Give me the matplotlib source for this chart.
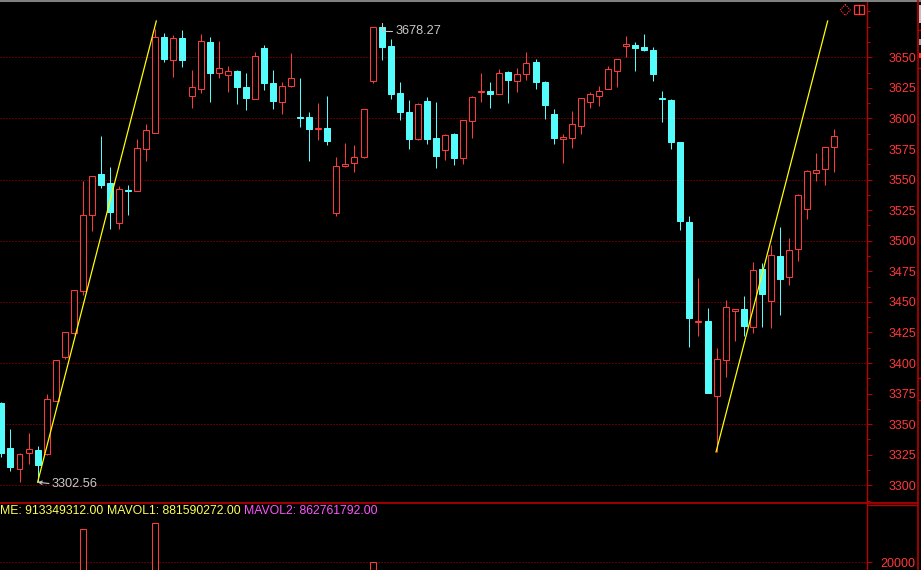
import matplotlib
matplotlib.use('Agg')
import matplotlib.pyplot as plt
from matplotlib.patches import Rectangle, Polygon
from matplotlib.lines import Line2D
import numpy as np

W, H, DPI = 921, 570, 100

opens = [3367.3, 3330.5, 3313.6, 3326.2, 3328.9, 3325.4, 3369.2, 3404.7, 3424.3, 3459.2,
         3520.8, 3554.8, 3547.5, 3514.3, 3541.5, 3540.9, 3575.3, 3588.3, 3666.6, 3648.0,
         3665.8, 3618.1, 3624.3, 3662.5, 3636.9, 3635.3, 3638.8, 3625.7, 3616.1, 3657.6,
         3629.0, 3613.7, 3626.3, 3601.2, 3601.2, 3591.5, 3592.2, 3522.4, 3560.9, 3563.3,
         3568.2, 3630.4, 3674.8, 3659.2, 3620.8, 3605.3, 3582.9, 3614.3, 3584.3, 3574.0,
         3587.3, 3567.4, 3597.7, 3621.5, 3622.4, 3620.2, 3638.0, 3630.9, 3636.6, 3646.2,
         3629.8, 3603.6, 3583.4, 3584.3, 3594.1, 3613.7, 3618.6, 3624.3, 3639.0, 3659.5,
         3660.1, 3658.4, 3656.0, 3616.8, 3615.1, 3580.7, 3515.6, 3433.8, 3434.4, 3372.8,
         3402.2, 3442.3, 3444.2, 3429.2, 3476.9, 3450.5, 3487.5, 3470.1, 3493.2, 3525.7,
         3555.6, 3558.9, 3576.4]
highs = [3368.0, 3346.1, 3326.4, 3342.8, 3332.2, 3374.7, 3402.5, 3425.5, 3460.0, 3548.8,
         3553.2, 3585.9, 3560.5, 3545.0, 3545.6, 3583.2, 3595.5, 3672.9, 3669.9, 3668.5,
         3672.3, 3639.6, 3669.3, 3666.6, 3663.3, 3642.9, 3639.6, 3637.2, 3654.3, 3660.1,
         3639.6, 3629.8, 3653.5, 3633.1, 3605.3, 3612.6, 3618.4, 3568.5, 3579.9, 3578.3,
         3608.0, 3675.0, 3678.27, 3664.7, 3629.8, 3615.1, 3612.6, 3617.5, 3613.4, 3587.0,
         3588.0, 3599.0, 3618.0, 3637.2, 3629.8, 3640.4, 3638.5, 3641.3, 3654.3, 3648.6,
         3630.3, 3607.7, 3587.3, 3606.1, 3617.0, 3621.6, 3626.5, 3642.9, 3649.0, 3667.4,
         3662.5, 3669.1, 3658.4, 3622.4, 3615.5, 3581.0, 3520.2, 3469.5, 3445.0, 3412.5,
         3451.5, 3444.3, 3455.1, 3482.6, 3481.8, 3496.3, 3511.0, 3502.0, 3538.2, 3557.5,
         3571.7, 3577.0, 3591.4]
lows = [3323.4, 3312.0, 3303.0, 3317.7, 3302.56, 3325.0, 3368.8, 3403.0, 3424.0, 3456.0,
        3508.2, 3543.4, 3509.8, 3509.8, 3521.0, 3540.5, 3565.2, 3588.0, 3646.2, 3633.9,
        3642.1, 3608.8, 3621.1, 3613.7, 3633.3, 3621.9, 3612.1, 3607.2, 3615.8, 3623.5,
        3608.0, 3603.9, 3626.0, 3593.3, 3565.4, 3582.6, 3578.5, 3520.5, 3560.6, 3556.5,
        3567.9, 3629.2, 3647.8, 3616.1, 3599.0, 3575.3, 3582.5, 3579.3, 3559.7, 3566.3,
        3562.2, 3563.0, 3584.3, 3613.7, 3608.8, 3620.0, 3612.9, 3621.9, 3631.4, 3624.3,
        3599.8, 3579.3, 3563.8, 3576.1, 3587.5, 3608.8, 3610.4, 3624.0, 3626.0, 3650.5,
        3639.0, 3655.2, 3630.9, 3597.3, 3575.3, 3508.5, 3413.4, 3422.4, 3375.5, 3327.3,
        3388.8, 3418.3, 3422.1, 3424.8, 3429.7, 3428.9, 3439.5, 3464.1, 3483.7, 3518.0,
        3549.1, 3545.8, 3556.5]
closes = [3326.4, 3315.2, 3325.4, 3329.5, 3316.9, 3370.3, 3402.2, 3425.1, 3459.5, 3521.0,
          3552.9, 3545.8, 3523.7, 3542.3, 3541.0, 3575.8, 3590.6, 3666.4, 3648.9, 3665.5,
          3647.8, 3625.5, 3663.3, 3637.4, 3641.0, 3638.8, 3626.0, 3617.0, 3651.1, 3629.2,
          3614.5, 3626.3, 3632.8, 3600.7, 3591.6, 3592.3, 3581.8, 3561.1, 3562.8, 3568.5,
          3607.7, 3674.8, 3658.7, 3620.2, 3605.5, 3583.4, 3611.6, 3583.4, 3569.5, 3586.5,
          3567.9, 3598.7, 3617.5, 3622.3, 3620.2, 3637.2, 3631.7, 3636.3, 3645.3, 3630.0,
          3611.2, 3584.3, 3585.1, 3595.5, 3616.7, 3620.0, 3622.4, 3640.4, 3648.6, 3661.1,
          3657.9, 3656.0, 3636.6, 3616.3, 3581.0, 3515.9, 3437.1, 3434.5, 3375.7, 3403.3,
          3445.6, 3443.9, 3430.3, 3475.8, 3456.7, 3488.1, 3469.0, 3492.4, 3537.2, 3557.0,
          3557.8, 3576.7, 3585.6]
volumes = [14200, 12500, 11800, 10900, 12100, 15600, 16400, 16900, 17300, 28600,
           17600, 16800, 15900, 14300, 12200, 15100, 15800, 30000, 16900, 15200,
           14800, 13500, 15300, 14900, 12800, 11600, 11900, 12300, 14100, 13800,
           12600, 11800, 12900, 12500, 13100, 11200, 11700, 16200, 12400, 11500,
           14200, 20100, 17400, 15800, 14100, 13200, 12700, 12400, 12900, 11300,
           11600, 12800, 13400, 12100, 11800, 12600, 11900, 11400, 12200, 12500,
           13100, 12800, 11100, 11700, 12400, 11500, 11200, 12700, 13300, 13900,
           12600, 12300, 13500, 14600, 15400, 16800, 17600, 13900, 16200, 17100,
           15500, 11900, 12400, 14300, 13100, 14500, 13600, 12800, 15200, 14700,
           12300, 13400, 13800]

price_ticks = list(range(3300, 3651, 25))
grid_levels = list(range(3300, 3651, 50))
vol_ticks = [20000]
trend1 = ([4, 17.11], [3302.56, 3679.7])
trend2 = ([78.94, 91.27], [3327.3, 3679.7])
info_texts = ["ME: 913349312.00", "MAVOL1: 881590272.00", "MAVOL2: 862761792.00"]

RED = '#ff3838'
CYAN = '#54fcfc'
AXRED = '#b80000'
GRID = '#b40000'
YEL = '#ffff00'
GREY = '#c8c8c8'
FONT = 'Liberation Sans'
LW = 0.72

plt.rcParams['font.family'] = [FONT, 'DejaVu Sans']

fig = plt.figure(figsize=(W / DPI, H / DPI), dpi=DPI, facecolor='black')

def fx(x):
    return x / W

def fy(y):
    return 1 - y / H

# price axes: pixel rows 0..503, columns 0..866.7
ax = fig.add_axes([0, fy(503), fx(866.7), 503 / H], facecolor='black')
x0 = -1.4 / 9.053
x1 = (866.7 - 1.4) / 9.053
ax.set_xlim(x0, x1)
ax.set_ylim(3650 - (503 - 57.3) / 1.2229, 3650 + 57.3 / 1.2229)

for g in grid_levels:
    ax.axhline(g, color=GRID, lw=LW, linestyle=(0, (1, 2)), zorder=0)

bw = 0.66
minh = 0.9
n = len(opens)
for i in range(n):
    o, h, l, c = opens[i], highs[i], lows[i], closes[i]
    top, bot = max(o, c), min(o, c)
    if top - bot < minh:
        mid = (top + bot) / 2
        top, bot = mid + minh / 2, mid - minh / 2
    if c >= o:
        ax.vlines(i, top, h, color=RED, lw=LW, zorder=2)
        ax.vlines(i, l, bot, color=RED, lw=LW, zorder=2)
        ax.add_patch(Rectangle((i - bw / 2, bot), bw, top - bot, facecolor='black',
                               edgecolor=RED, lw=LW, zorder=3))
    else:
        ax.vlines(i, l, h, color=CYAN, lw=LW, zorder=2)
        ax.add_patch(Rectangle((i - bw / 2, bot), bw, top - bot, facecolor=CYAN,
                               edgecolor=CYAN, lw=LW, zorder=3))

ax.plot(trend1[0], trend1[1], color=YEL, lw=0.9, zorder=4)
ax.plot(trend2[0], trend2[1], color=YEL, lw=0.9, zorder=4)

ilow = int(np.argmin(lows))
ihigh = int(np.argmax(highs))
ax.annotate(f'{lows[ilow]:.2f}', xy=(ilow, lows[ilow]), xytext=(10.2, -1.2),
            textcoords='offset points', ha='left', va='center', color=GREY,
            fontsize=9.2, zorder=5,
            arrowprops=dict(arrowstyle='->', color=GREY, lw=0.8, shrinkA=0, shrinkB=0,
                            relpos=(0, 0.5), mutation_scale=6))
ax.annotate(f'{highs[ihigh]:.2f}', xy=(ihigh, highs[ihigh]), xytext=(9.8, -6.2),
            textcoords='offset points', ha='left', va='center', color=GREY,
            fontsize=9.2, zorder=5,
            arrowprops=dict(arrowstyle='-', color=GREY, lw=0.8, shrinkA=0, shrinkB=0,
                            relpos=(0, 0.5), connectionstyle='angle,angleA=0,angleB=90,rad=0'))

for s in ['top', 'left', 'bottom']:
    ax.spines[s].set_visible(False)
ax.spines['right'].set_color(AXRED)
ax.spines['right'].set_linewidth(1.0)
ax.set_xticks([])
ax.yaxis.tick_right()
ax.set_yticks(price_ticks)
ax.set_yticklabels([str(t) for t in price_ticks])
ax.set_yticks([t + 12.5 for t in price_ticks[:-1]] + [3287.5, 3662.5, 3675, 3687.5], minor=True)
ax.tick_params(axis='y', which='major', colors=AXRED, labelcolor=RED, length=3.6,
               width=LW, pad=12.2, direction='out', labelsize=9)
ax.tick_params(axis='y', which='minor', colors=AXRED, length=2.4, width=LW, direction='out')

# volume axes: rows 503..640 (partly cut off by the figure bottom)
vax = fig.add_axes([0, fy(640), fx(866.7), 137 / H], facecolor='black')
vax.set_xlim(x0, x1)
vax.set_ylim(0, 20000 / (77.7 / 137))
for g in vol_ticks:
    vax.axhline(g, color=GRID, lw=LW, linestyle=(0, (1, 2)), zorder=0)
faces = ['black' if closes[i] >= opens[i] else CYAN for i in range(n)]
edges = [RED if closes[i] >= opens[i] else CYAN for i in range(n)]
vax.bar(np.arange(n), volumes, width=bw, color=faces, edgecolor=edges, linewidth=LW, zorder=2)
for s in ['top', 'left', 'bottom']:
    vax.spines[s].set_visible(False)
vax.spines['right'].set_color(AXRED)
vax.spines['right'].set_linewidth(1.0)
vax.set_xticks([])
vax.yaxis.tick_right()
vax.set_yticks(vol_ticks)
vax.set_yticklabels([str(t) for t in vol_ticks])
vax.tick_params(axis='y', colors=AXRED, labelcolor=RED, length=3.6, width=LW,
                pad=6.5, direction='out', labelsize=9)

# info line of the volume panel
info_x = [0, 106.7, 244]
info_c = ['#ffff54', '#ffff54', '#ff54ff']
for t, xx, cc in zip(info_texts, info_x, info_c):
    fig.text(fx(xx), fy(511.5), t, color=cc, fontsize=8.8, ha='left', va='center')

# frame lines
fig.add_artist(Line2D([0, 1], [fy(0.8), fy(0.8)], color='#808080', lw=1.5))
fig.add_artist(Line2D([0, fx(917.7)], [fy(503), fy(503)], color=AXRED, lw=1.2))
fig.add_artist(Line2D([fx(867.5), fx(917)], [fy(505), fy(505)], color=AXRED, lw=1.0))
fig.add_artist(Line2D([fx(917.7), fx(917.7)], [0, 1], color=AXRED, lw=1.2))
for yy in [30, 68, 378, 400]:
    fig.add_artist(Line2D([fx(917.7), fx(921)], [fy(yy), fy(yy)], color=AXRED, lw=1.0))
fig.add_artist(Rectangle((fx(918.8), fy(23)), fx(2.5), 18 / H, transform=fig.transFigure,
                         facecolor='#c0c0c0', edgecolor='none'))
fig.add_artist(Rectangle((fx(918.8), fy(45)), fx(2.5), 6 / H, transform=fig.transFigure,
                         facecolor='#a0a0a0', edgecolor='none'))
fig.add_artist(Rectangle((fx(918.8), fy(58)), fx(2.5), 5 / H, transform=fig.transFigure,
                         facecolor=RED, edgecolor='none'))

# small icons at the top right
fig.add_artist(Polygon([(fx(845.3), fy(4.5)), (fx(850.3), fy(10)), (fx(845.3), fy(15.5)),
                        (fx(840.3), fy(10))], closed=True, transform=fig.transFigure,
                       facecolor='none', edgecolor=RED, lw=0.8, linestyle=(0, (1, 1))))
fig.add_artist(Rectangle((fx(854.2), fy(14.3)), fx(9.8), 9.6 / H, transform=fig.transFigure,
                         facecolor='none', edgecolor=RED, lw=0.9))
fig.add_artist(Line2D([fx(858.6), fx(858.6)], [fy(4.7), fy(14.3)], color=RED, lw=0.9))

fig.savefig('out.png', dpi=DPI, facecolor='black')
